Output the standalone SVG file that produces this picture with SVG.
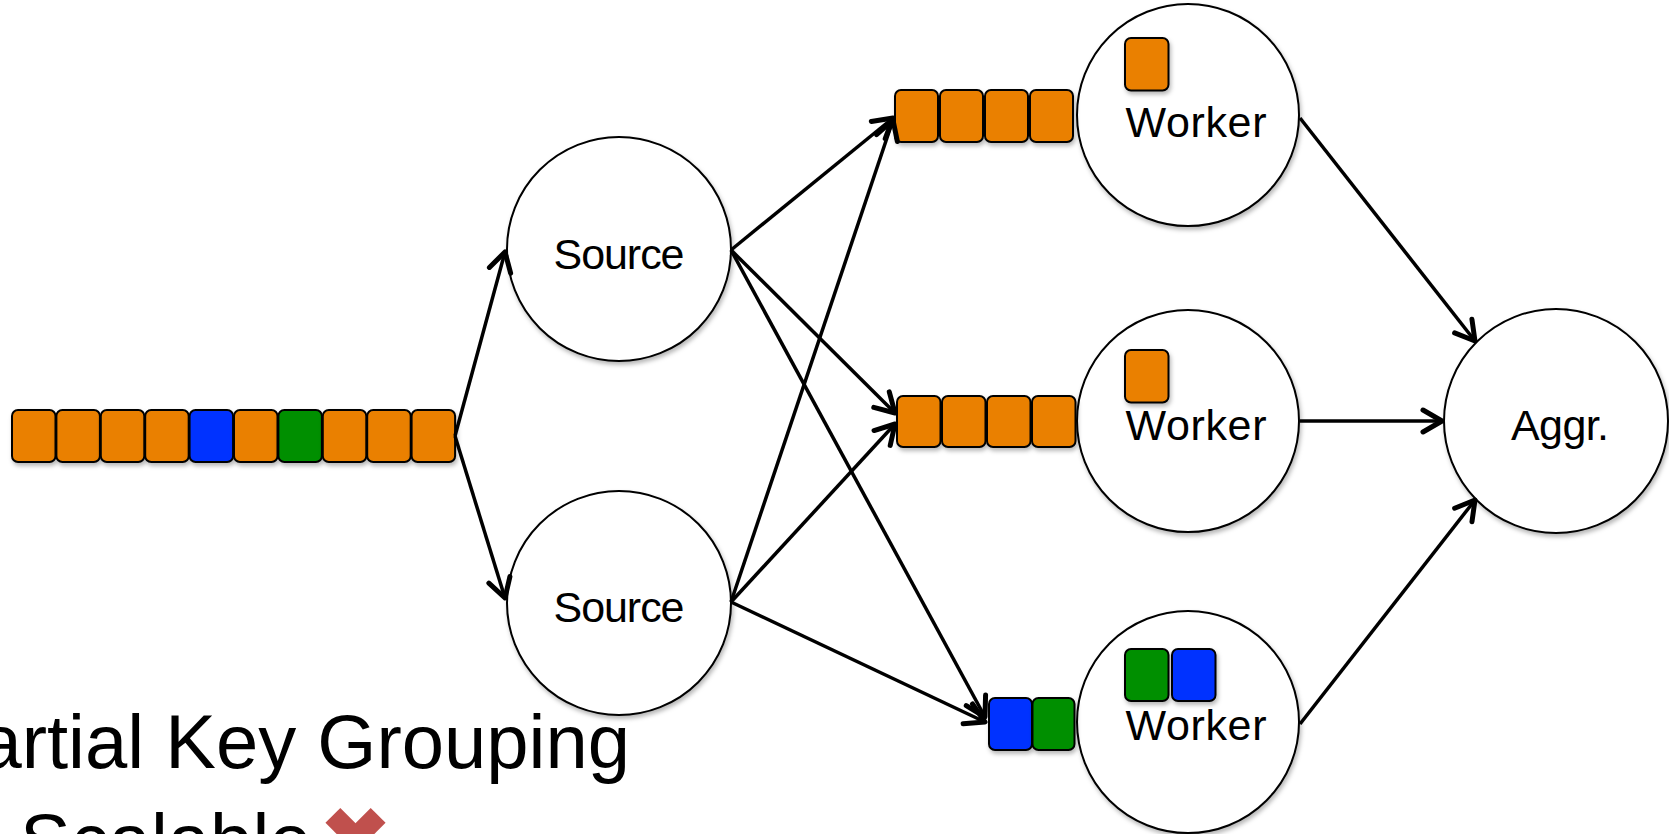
<svg xmlns="http://www.w3.org/2000/svg" width="1669" height="834" viewBox="0 0 1669 834">
<defs>
<filter id="sh" x="-20%" y="-20%" width="150%" height="150%">
<feDropShadow dx="1.5" dy="3" stdDeviation="2" flood-color="#000" flood-opacity="0.28"/>
</filter>
<marker id="arr" markerUnits="userSpaceOnUse" markerWidth="30" markerHeight="30" viewBox="-24 -15 28 30" refX="0" refY="0" orient="auto">
<path d="M-19,-11 L0,0 L-19,11" fill="none" stroke="#000" stroke-width="5" stroke-linecap="round" stroke-linejoin="round"/>
</marker>
</defs>
<style>
.node{fill:#fff;stroke:#000;stroke-width:2;filter:url(#sh)}
.lbl{font-family:"Liberation Sans",Arial,sans-serif;font-size:43px;fill:#000;text-anchor:middle}
.o{fill:#EA8006;stroke:#000;stroke-width:2;filter:url(#sh)}
.b{fill:#0433FF;stroke:#000;stroke-width:2;filter:url(#sh)}
.g{fill:#008F00;stroke:#000;stroke-width:2;filter:url(#sh)}
.c{fill:none;stroke:#000;stroke-width:3.5;marker-end:url(#arr)}
.title{font-family:"Liberation Sans",Arial,sans-serif;font-size:76px;fill:#000}
</style>

<g id="input-queue">
<rect class="o" x="12" y="410" width="43.5" height="52" rx="6"/>
<rect class="o" x="56.4" y="410" width="43.5" height="52" rx="6"/>
<rect class="o" x="100.8" y="410" width="43.5" height="52" rx="6"/>
<rect class="o" x="145.2" y="410" width="43.5" height="52" rx="6"/>
<rect class="b" x="189.6" y="410" width="43.5" height="52" rx="6"/>
<rect class="o" x="234" y="410" width="43.5" height="52" rx="6"/>
<rect class="g" x="278.4" y="410" width="43.5" height="52" rx="6"/>
<rect class="o" x="322.8" y="410" width="43.5" height="52" rx="6"/>
<rect class="o" x="367.2" y="410" width="43.5" height="52" rx="6"/>
<rect class="o" x="411.6" y="410" width="43.5" height="52" rx="6"/>
</g>

<g id="source-1">
<circle class="node" cx="619" cy="249" r="112"/>
<text class="lbl" x="619" y="269" textLength="131">Source</text>
</g>
<g id="source-2">
<circle class="node" cx="619" cy="603" r="112"/>
<text class="lbl" x="619" y="622" textLength="131">Source</text>
</g>

<g id="worker-1">
<circle class="node" cx="1188" cy="115" r="111"/>
<rect class="o" x="1125" y="38" width="43.5" height="52.5" rx="6"/>
<text class="lbl" x="1196" y="137" textLength="141">Worker</text>
</g>
<g id="worker-2">
<circle class="node" cx="1188" cy="421" r="111"/>
<rect class="o" x="1125" y="350" width="43.5" height="52.5" rx="6"/>
<text class="lbl" x="1196" y="440" textLength="141">Worker</text>
</g>
<g id="worker-3">
<circle class="node" cx="1188" cy="722" r="111"/>
<rect class="g" x="1125" y="649" width="43.5" height="52" rx="6"/>
<rect class="b" x="1172" y="649" width="43.5" height="52" rx="6"/>
<text class="lbl" x="1196" y="740" textLength="141">Worker</text>
</g>
<g id="aggr">
<circle class="node" cx="1556" cy="421" r="112"/>
<text class="lbl" x="1560" y="440" textLength="98">Aggr.</text>
</g>

<g id="queue-1">
<rect class="o" x="895" y="90" width="43" height="52" rx="6"/>
<rect class="o" x="940" y="90" width="43" height="52" rx="6"/>
<rect class="o" x="985" y="90" width="43" height="52" rx="6"/>
<rect class="o" x="1030" y="90" width="43" height="52" rx="6"/>
</g>
<g id="queue-2">
<rect class="o" x="897" y="396" width="43.5" height="51" rx="6"/>
<rect class="o" x="942" y="396" width="43.5" height="51" rx="6"/>
<rect class="o" x="987" y="396" width="43.5" height="51" rx="6"/>
<rect class="o" x="1032" y="396" width="43.5" height="51" rx="6"/>
</g>
<g id="queue-3">
<rect class="b" x="989" y="698" width="43" height="52" rx="6"/>
<rect class="g" x="1032.5" y="698" width="42" height="52" rx="6"/>
</g>

<g id="connectors">
<line class="c" x1="455" y1="436" x2="505" y2="252"/>
<line class="c" x1="455" y1="436" x2="505" y2="598"/>
<line class="c" x1="731" y1="250" x2="893" y2="118"/>
<line class="c" x1="731" y1="250" x2="895" y2="413"/>
<line class="c" x1="731" y1="250" x2="985" y2="717"/>
<line class="c" x1="731" y1="602" x2="893" y2="120"/>
<line class="c" x1="731" y1="602" x2="895" y2="424"/>
<line class="c" x1="731" y1="602" x2="985" y2="722"/>
<line class="c" x1="1300" y1="118" x2="1475" y2="341"/>
<line class="c" x1="1300" y1="421" x2="1442" y2="421"/>
<line class="c" x1="1300" y1="724" x2="1475" y2="500"/>
</g>

<g id="title">
<text class="title" x="630" y="768" text-anchor="end">Partial Key Grouping</text>
<text class="title" x="20" y="867">Scalable</text>
<g fill="#C0504D">
<rect x="345" y="806" width="21" height="64" transform="rotate(45 355.5 838)"/>
<rect x="345" y="806" width="21" height="64" transform="rotate(-45 355.5 838)"/>
</g>
</g>
</svg>
